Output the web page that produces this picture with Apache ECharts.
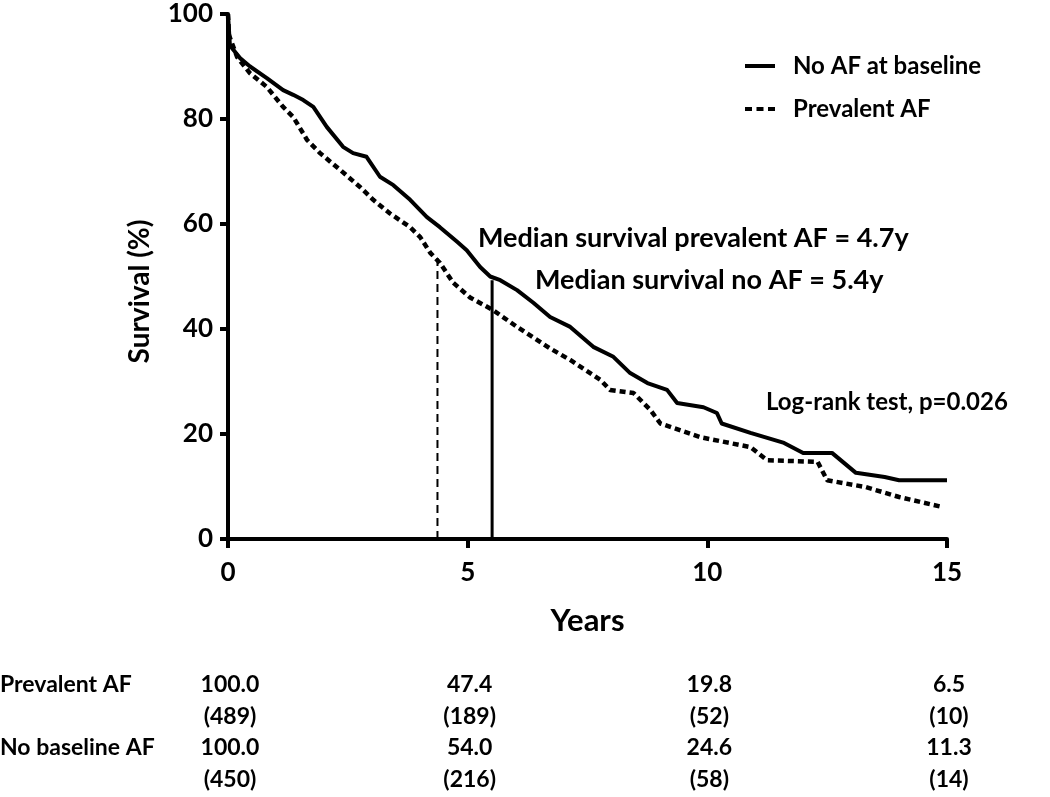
<!DOCTYPE html>
<html>
<head>
<meta charset="utf-8">
<script src="https://cdn.jsdelivr.net/npm/echarts@6/dist/echarts.min.js"></script>
<style>
html,body{margin:0;padding:0;background:#fff;}
#chart{width:1050px;height:797px;}
</style>
</head>
<body>
<div id="chart"></div>
<script>
// ---- Data ----
const noAfYears = [0,0.02,0.04,0.25,0.46,0.81,1.15,1.36,1.57,1.78,2.06,2.40,2.61,2.89,3.17,3.45,3.80,4.15,4.42,4.78,4.98,5.26,5.47,5.68,6.03,6.37,6.72,7.14,7.62,8.04,8.39,8.75,9.16,9.37,9.92,10.2,10.3,10.9,11.6,12.0,12.6,12.85,13.1,13.7,14.0,15.0];
const noAfSurvival = [100,97,94,91.6,90,87.8,85.5,84.6,83.6,82.3,78.5,74.7,73.5,72.8,69,67.4,64.6,61.3,59.4,56.6,55,51.8,50,49.3,47.4,45,42.3,40.4,36.6,34.7,31.6,29.7,28.4,25.9,25.1,24,22,20.2,18.3,16.4,16.4,14.5,12.6,11.8,11.2,11.2];

const prevYears = [0,0.02,0.19,0.46,0.81,1.15,1.36,1.65,1.92,2.34,2.76,3.03,3.38,3.80,4.01,4.22,4.42,4.70,5.05,5.53,6.03,6.72,7.14,7.77,7.97,8.46,8.81,9.02,9.85,10.9,11.25,12.3,12.5,13.3,14.0,14.9];
const prevSurvival = [100,96,91.8,88.7,86.1,82.3,80.4,76,73.5,70.3,67,64.6,62,59.4,57.5,54.5,52.6,48.8,46,43.6,40.4,36.3,34.1,30.3,28.4,27.8,24.6,22,19.4,17.5,15.0,14.7,11.2,9.9,8.0,6.1];

const medianX = [4.37, 5.51];      // prevalent AF, no AF (as drawn)
const medianTop = [53.7, 49.3];

const seriesNames = ['No AF at baseline', 'Prevalent AF'];
const yTicks = [0, 20, 40, 60, 80, 100];
const xTicks = [0, 5, 10, 15];

const tableRowLabels = ['Prevalent AF', '', 'No baseline AF', ''];
const prevalentPct = ['100.0', '47.4', '19.8', '6.5'];
const prevalentN = ['(489)', '(189)', '(52)', '(10)'];
const noAfPct = ['100.0', '54.0', '24.6', '11.3'];
const noAfN = ['(450)', '(216)', '(58)', '(14)'];

const annMedPrev = 'Median survival prevalent AF = 4.7y';
const annMedNoAf = 'Median survival no AF = 5.4y';
const annLogRank = 'Log-rank test, p=0.026';

// ---- Chart ----
const FONT = 'Lato';
const chart = echarts.init(document.getElementById('chart'), null, {renderer: 'canvas'});
const zip = (xs, ys) => xs.map((x, i) => [x, ys[i]]);

const option = {
  animation: false,
  backgroundColor: '#ffffff',
  grid: {left: 228, right: 103, top: 14, bottom: 258, containLabel: false},
  legend: {
    data: [
      {name: seriesNames[0], icon: 'path://M0,0h30v4h-30z'},
      {name: seriesNames[1], icon: 'path://M0,0h7v4h-7z M11.5,0h7v4h-7z M23,0h7v4h-7z'}
    ],
    orient: 'vertical',
    left: 740,
    top: 47,
    itemWidth: 30,
    itemHeight: 4,
    itemGap: 15,
    itemStyle: {color: '#000'},
    textStyle: {fontFamily: FONT, fontWeight: 'bold', fontSize: 24, color: '#000', lineHeight: 28, padding: [0, 0, 0, 13]}
  },
  xAxis: {
    type: 'value', min: 0, max: 15, interval: 5,
    name: 'Years', nameLocation: 'middle', nameGap: 66,
    nameTextStyle: {fontFamily: FONT, fontWeight: 'bold', fontSize: 31, color: '#000'},
    axisLine: {show: true, onZero: false, lineStyle: {color: '#000', width: 4}},
    axisTick: {show: true, inside: false, length: 9, lineStyle: {color: '#000', width: 4}},
    axisLabel: {fontFamily: FONT, fontWeight: 'bold', fontSize: 26, color: '#000', margin: 21,
      formatter: v => xTicks.includes(v) ? String(v) : ''},
    splitLine: {show: false}
  },
  yAxis: {
    type: 'value', min: 0, max: 100, interval: 20,
    name: 'Survival (%)', nameLocation: 'middle', nameGap: 74, nameRotate: 90,
    nameTextStyle: {fontFamily: FONT, fontWeight: 'bold', fontSize: 28, color: '#000', padding: [0, 30, 0, 0]},
    axisLine: {show: true, onZero: false, lineStyle: {color: '#000', width: 4}},
    axisTick: {show: true, inside: false, length: 8, lineStyle: {color: '#000', width: 4}},
    axisLabel: {fontFamily: FONT, fontWeight: 'bold', fontSize: 26, color: '#000', margin: 15,
      formatter: v => yTicks.includes(v) ? String(v) : ''},
    splitLine: {show: false}
  },
  series: [
    {
      name: 'median-prev', type: 'line', silent: true, symbol: 'none', z: 1,
      data: [[medianX[0], 0], [medianX[0], medianTop[0]]],
      lineStyle: {color: '#000', width: 2, type: [8, 5]}
    },
    {
      name: 'median-noaf', type: 'line', silent: true, symbol: 'none', z: 1,
      data: [[medianX[1], 0], [medianX[1], medianTop[1]]],
      lineStyle: {color: '#000', width: 3, type: 'solid'}
    },
    {
      name: seriesNames[0], type: 'line', symbol: 'none', showSymbol: false, z: 3,
      data: zip(noAfYears, noAfSurvival),
      color: '#000',
      lineStyle: {color: '#000', width: 4, type: 'solid', join: 'round'}
    },
    {
      name: seriesNames[1], type: 'line', symbol: 'none', showSymbol: false, z: 3,
      data: zip(prevYears, prevSurvival),
      color: '#000',
      lineStyle: {color: '#000', width: 4.5, type: [6, 4]}
    }
  ]
};
chart.setOption(option);

// ---- Annotations and table (positioned from the axis scale) ----
const px = (x, y) => chart.convertToPixel({gridIndex: 0}, [x, y]);
const txt = (text, x, y, align, size) => ({
  type: 'text', x: x, y: y,
  style: {text: text, fontFamily: FONT, fontWeight: 'bold', fontSize: size, fill: '#000',
          align: align, verticalAlign: 'middle'}
});

const graphics = [];
graphics.push(txt(annMedPrev, 478, 238, 'left', 27));
graphics.push(txt(annMedNoAf, 535, 280, 'left', 27));
graphics.push(txt(annLogRank, 766, 402, 'left', 24));

const rowY = [685, 717, 748, 780];
const rows = [prevalentPct, prevalentN, noAfPct, noAfN];
rows.forEach((vals, r) => {
  if (tableRowLabels[r]) graphics.push(txt(tableRowLabels[r], 0, rowY[r], 'left', 23));
  vals.forEach((v, c) => {
    const p = px(xTicks[c], 0);
    graphics.push(txt(v, p[0] + 2, rowY[r], 'center', 23));
  });
});
chart.setOption({graphic: graphics});
</script>
</body>
</html>
